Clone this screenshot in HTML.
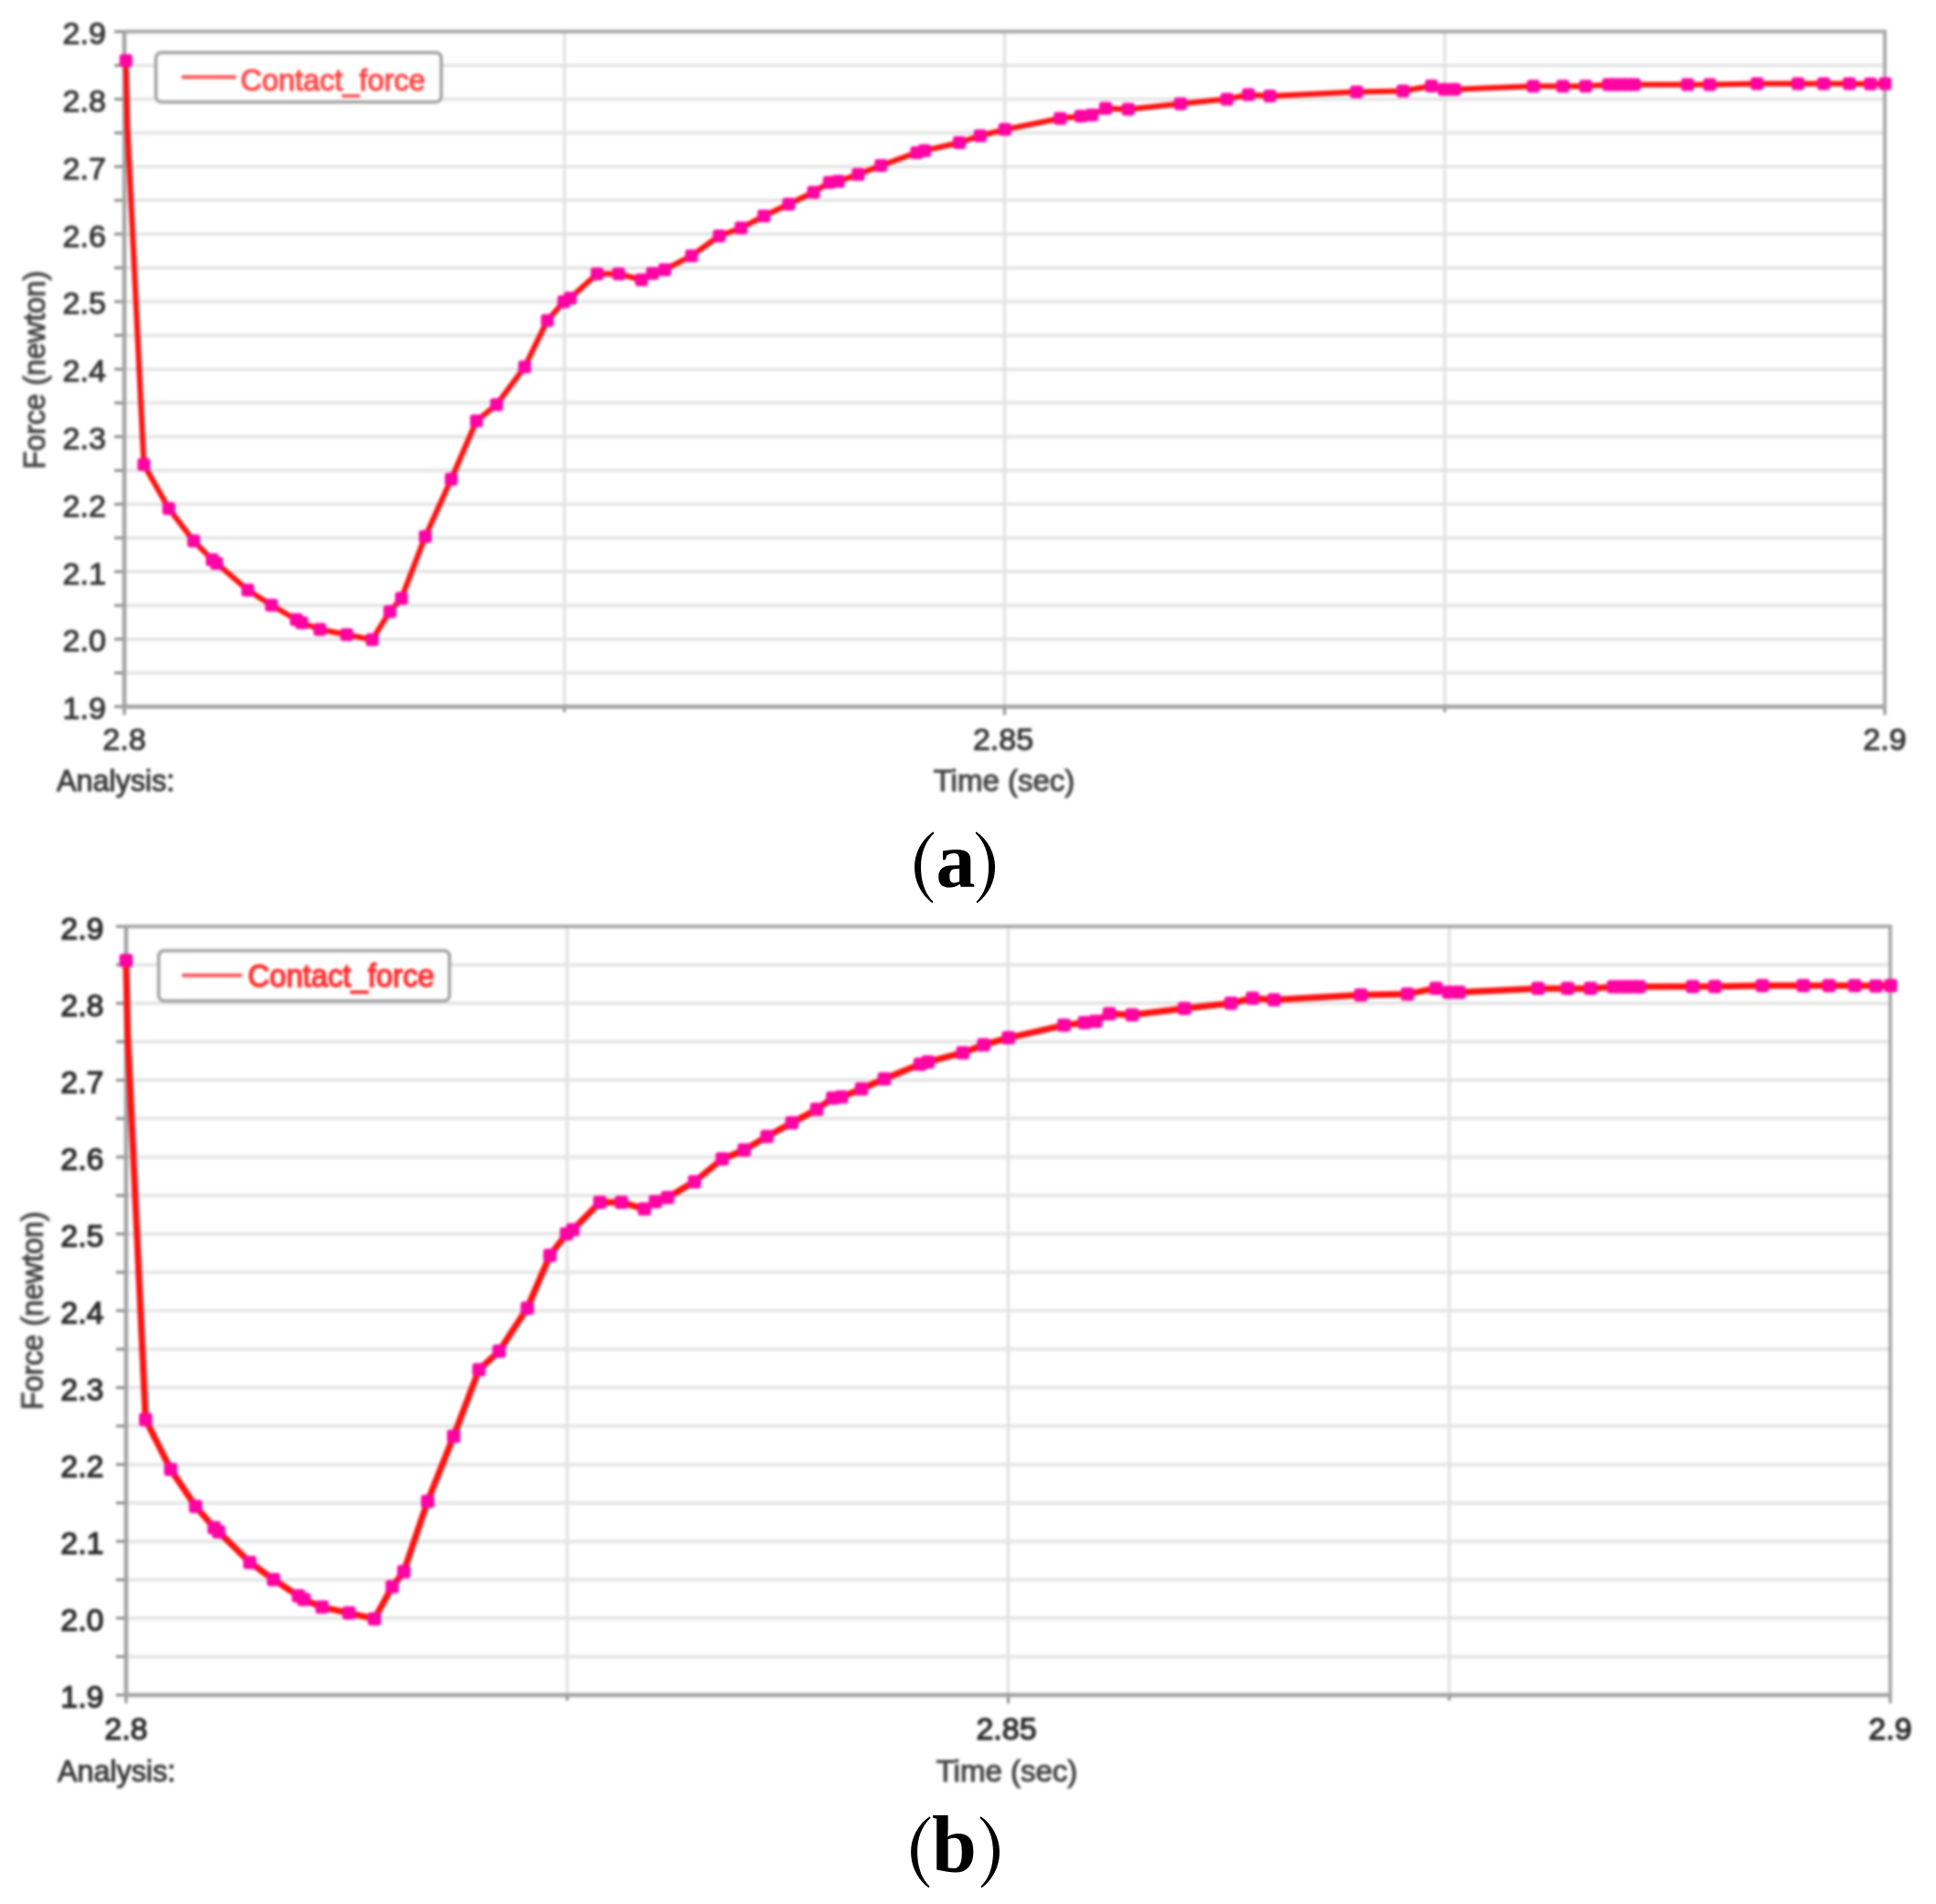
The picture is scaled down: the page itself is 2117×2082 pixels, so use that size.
<!DOCTYPE html>
<html><head><meta charset="utf-8"><title>Contact force</title>
<style>
html,body{margin:0;padding:0;background:#fff;}
body{width:2117px;height:2082px;overflow:hidden;font-family:"Liberation Sans",sans-serif;}
svg{display:block;}
.c{filter:blur(1.4px);}
</style></head><body>
<svg width="2117" height="2082" viewBox="0 0 2117 2082" font-family='"Liberation Sans", sans-serif'>
<g class="c">
<line x1="136" y1="71.5" x2="2061" y2="71.5" stroke="#e6e6e6" stroke-width="4"/>
<line x1="136" y1="108.4" x2="2061" y2="108.4" stroke="#e6e6e6" stroke-width="4"/>
<line x1="136" y1="145.3" x2="2061" y2="145.3" stroke="#e6e6e6" stroke-width="4"/>
<line x1="136" y1="182.2" x2="2061" y2="182.2" stroke="#e6e6e6" stroke-width="4"/>
<line x1="136" y1="219.1" x2="2061" y2="219.1" stroke="#e6e6e6" stroke-width="4"/>
<line x1="136" y1="256" x2="2061" y2="256" stroke="#e6e6e6" stroke-width="4"/>
<line x1="136" y1="292.9" x2="2061" y2="292.9" stroke="#e6e6e6" stroke-width="4"/>
<line x1="136" y1="329.8" x2="2061" y2="329.8" stroke="#e6e6e6" stroke-width="4"/>
<line x1="136" y1="366.7" x2="2061" y2="366.7" stroke="#e6e6e6" stroke-width="4"/>
<line x1="136" y1="403.7" x2="2061" y2="403.7" stroke="#e6e6e6" stroke-width="4"/>
<line x1="136" y1="440.6" x2="2061" y2="440.6" stroke="#e6e6e6" stroke-width="4"/>
<line x1="136" y1="477.5" x2="2061" y2="477.5" stroke="#e6e6e6" stroke-width="4"/>
<line x1="136" y1="514.4" x2="2061" y2="514.4" stroke="#e6e6e6" stroke-width="4"/>
<line x1="136" y1="551.3" x2="2061" y2="551.3" stroke="#e6e6e6" stroke-width="4"/>
<line x1="136" y1="588.2" x2="2061" y2="588.2" stroke="#e6e6e6" stroke-width="4"/>
<line x1="136" y1="625.1" x2="2061" y2="625.1" stroke="#e6e6e6" stroke-width="4"/>
<line x1="136" y1="662" x2="2061" y2="662" stroke="#e6e6e6" stroke-width="4"/>
<line x1="136" y1="698.9" x2="2061" y2="698.9" stroke="#e6e6e6" stroke-width="4"/>
<line x1="136" y1="735.8" x2="2061" y2="735.8" stroke="#e6e6e6" stroke-width="4"/>
<line x1="617.2" y1="34.6" x2="617.2" y2="772.7" stroke="#e3e3e3" stroke-width="3.5"/>
<line x1="1098.5" y1="34.6" x2="1098.5" y2="772.7" stroke="#e3e3e3" stroke-width="3.5"/>
<line x1="1579.8" y1="34.6" x2="1579.8" y2="772.7" stroke="#e3e3e3" stroke-width="3.5"/>
<line x1="125" y1="34.6" x2="136" y2="34.6" stroke="#8a8a8a" stroke-width="3"/>
<line x1="125" y1="71.5" x2="136" y2="71.5" stroke="#8a8a8a" stroke-width="3"/>
<line x1="125" y1="108.4" x2="136" y2="108.4" stroke="#8a8a8a" stroke-width="3"/>
<line x1="125" y1="145.3" x2="136" y2="145.3" stroke="#8a8a8a" stroke-width="3"/>
<line x1="125" y1="182.2" x2="136" y2="182.2" stroke="#8a8a8a" stroke-width="3"/>
<line x1="125" y1="219.1" x2="136" y2="219.1" stroke="#8a8a8a" stroke-width="3"/>
<line x1="125" y1="256" x2="136" y2="256" stroke="#8a8a8a" stroke-width="3"/>
<line x1="125" y1="292.9" x2="136" y2="292.9" stroke="#8a8a8a" stroke-width="3"/>
<line x1="125" y1="329.8" x2="136" y2="329.8" stroke="#8a8a8a" stroke-width="3"/>
<line x1="125" y1="366.7" x2="136" y2="366.7" stroke="#8a8a8a" stroke-width="3"/>
<line x1="125" y1="403.7" x2="136" y2="403.7" stroke="#8a8a8a" stroke-width="3"/>
<line x1="125" y1="440.6" x2="136" y2="440.6" stroke="#8a8a8a" stroke-width="3"/>
<line x1="125" y1="477.5" x2="136" y2="477.5" stroke="#8a8a8a" stroke-width="3"/>
<line x1="125" y1="514.4" x2="136" y2="514.4" stroke="#8a8a8a" stroke-width="3"/>
<line x1="125" y1="551.3" x2="136" y2="551.3" stroke="#8a8a8a" stroke-width="3"/>
<line x1="125" y1="588.2" x2="136" y2="588.2" stroke="#8a8a8a" stroke-width="3"/>
<line x1="125" y1="625.1" x2="136" y2="625.1" stroke="#8a8a8a" stroke-width="3"/>
<line x1="125" y1="662" x2="136" y2="662" stroke="#8a8a8a" stroke-width="3"/>
<line x1="125" y1="698.9" x2="136" y2="698.9" stroke="#8a8a8a" stroke-width="3"/>
<line x1="125" y1="735.8" x2="136" y2="735.8" stroke="#8a8a8a" stroke-width="3"/>
<line x1="125" y1="772.7" x2="136" y2="772.7" stroke="#8a8a8a" stroke-width="3"/>
<line x1="136" y1="772.7" x2="136" y2="781.7" stroke="#8a8a8a" stroke-width="3"/>
<line x1="617.2" y1="772.7" x2="617.2" y2="778.7" stroke="#8a8a8a" stroke-width="3"/>
<line x1="1098.5" y1="772.7" x2="1098.5" y2="781.7" stroke="#8a8a8a" stroke-width="3"/>
<line x1="1579.8" y1="772.7" x2="1579.8" y2="778.7" stroke="#8a8a8a" stroke-width="3"/>
<line x1="2061" y1="772.7" x2="2061" y2="781.7" stroke="#8a8a8a" stroke-width="3"/>
<path d="M136 34.6H2061V772.7" fill="none" stroke="#a8a8a8" stroke-width="4"/>
<path d="M136 34.6V772.7H2061" fill="none" stroke="#a2a2a2" stroke-width="4.5"/>
<polyline points="137.7,66.2 139.3,138 157.3,508.1 184.6,556 211.8,591.6 232,612 237,616 271,645.3 296.9,661.8 324,677.5 330,681 349.8,688.3 379.2,694 407,699.5 426.3,668.7 439,654.2 465,586.7 493.4,524.1 521,460.3 543,442.5 573.7,401.2 598.5,350.4 616.5,330 623.5,326 652.9,299.5 676.5,299.5 701.5,306 713.5,299 726.9,294.9 756.2,279.7 786.5,258 810.4,249.3 835.3,236.3 862.5,223.3 889.6,210.3 906.9,199.4 916.7,198.3 938.4,190.7 963.3,181 1002.4,166.9 1011,164.7 1049,156 1071.8,148.4 1098.8,141.6 1159.3,129.5 1181.7,127 1194.1,125.8 1208.9,118.4 1233.7,119.6 1290.8,113.4 1341.6,108.4 1365.1,103.5 1388.7,105 1483.3,100.5 1534.2,99.5 1565.3,94 1579.2,97.8 1590.5,97.8 1676.6,94.2 1708.9,94.2 1733.9,94.2 1759,92.6 1766,92.6 1773,92.6 1780,92.6 1787,92.6 1845.3,92.4 1869.6,92.4 1921.3,91.4 1966.1,91.4 1994.2,91.4 2022.2,91.4 2045.3,91.8 2061.4,91.4" fill="none" stroke="#ff1010" stroke-width="6" stroke-linejoin="round"/>
<rect x="130.7" y="59.2" width="14" height="14" rx="3" fill="#ff03a3"/>
<rect x="150.3" y="501.1" width="14" height="14" rx="3" fill="#ff03a3"/>
<rect x="177.6" y="549" width="14" height="14" rx="3" fill="#ff03a3"/>
<rect x="204.8" y="584.6" width="14" height="14" rx="3" fill="#ff03a3"/>
<rect x="225" y="605" width="14" height="14" rx="3" fill="#ff03a3"/>
<rect x="230" y="609" width="14" height="14" rx="3" fill="#ff03a3"/>
<rect x="264" y="638.3" width="14" height="14" rx="3" fill="#ff03a3"/>
<rect x="289.9" y="654.8" width="14" height="14" rx="3" fill="#ff03a3"/>
<rect x="317" y="670.5" width="14" height="14" rx="3" fill="#ff03a3"/>
<rect x="323" y="674" width="14" height="14" rx="3" fill="#ff03a3"/>
<rect x="342.8" y="681.3" width="14" height="14" rx="3" fill="#ff03a3"/>
<rect x="372.2" y="687" width="14" height="14" rx="3" fill="#ff03a3"/>
<rect x="400" y="692.5" width="14" height="14" rx="3" fill="#ff03a3"/>
<rect x="419.3" y="661.7" width="14" height="14" rx="3" fill="#ff03a3"/>
<rect x="432" y="647.2" width="14" height="14" rx="3" fill="#ff03a3"/>
<rect x="458" y="579.7" width="14" height="14" rx="3" fill="#ff03a3"/>
<rect x="486.4" y="517.1" width="14" height="14" rx="3" fill="#ff03a3"/>
<rect x="514" y="453.3" width="14" height="14" rx="3" fill="#ff03a3"/>
<rect x="536" y="435.5" width="14" height="14" rx="3" fill="#ff03a3"/>
<rect x="566.7" y="394.2" width="14" height="14" rx="3" fill="#ff03a3"/>
<rect x="591.5" y="343.4" width="14" height="14" rx="3" fill="#ff03a3"/>
<rect x="609.5" y="323" width="14" height="14" rx="3" fill="#ff03a3"/>
<rect x="616.5" y="319" width="14" height="14" rx="3" fill="#ff03a3"/>
<rect x="645.9" y="292.5" width="14" height="14" rx="3" fill="#ff03a3"/>
<rect x="669.5" y="292.5" width="14" height="14" rx="3" fill="#ff03a3"/>
<rect x="694.5" y="299" width="14" height="14" rx="3" fill="#ff03a3"/>
<rect x="706.5" y="292" width="14" height="14" rx="3" fill="#ff03a3"/>
<rect x="719.9" y="287.9" width="14" height="14" rx="3" fill="#ff03a3"/>
<rect x="749.2" y="272.7" width="14" height="14" rx="3" fill="#ff03a3"/>
<rect x="779.5" y="251" width="14" height="14" rx="3" fill="#ff03a3"/>
<rect x="803.4" y="242.3" width="14" height="14" rx="3" fill="#ff03a3"/>
<rect x="828.3" y="229.3" width="14" height="14" rx="3" fill="#ff03a3"/>
<rect x="855.5" y="216.3" width="14" height="14" rx="3" fill="#ff03a3"/>
<rect x="882.6" y="203.3" width="14" height="14" rx="3" fill="#ff03a3"/>
<rect x="899.9" y="192.4" width="14" height="14" rx="3" fill="#ff03a3"/>
<rect x="909.7" y="191.3" width="14" height="14" rx="3" fill="#ff03a3"/>
<rect x="931.4" y="183.7" width="14" height="14" rx="3" fill="#ff03a3"/>
<rect x="956.3" y="174" width="14" height="14" rx="3" fill="#ff03a3"/>
<rect x="995.4" y="159.9" width="14" height="14" rx="3" fill="#ff03a3"/>
<rect x="1004" y="157.7" width="14" height="14" rx="3" fill="#ff03a3"/>
<rect x="1042" y="149" width="14" height="14" rx="3" fill="#ff03a3"/>
<rect x="1064.8" y="141.4" width="14" height="14" rx="3" fill="#ff03a3"/>
<rect x="1091.8" y="134.6" width="14" height="14" rx="3" fill="#ff03a3"/>
<rect x="1152.3" y="122.5" width="14" height="14" rx="3" fill="#ff03a3"/>
<rect x="1174.7" y="120" width="14" height="14" rx="3" fill="#ff03a3"/>
<rect x="1187.1" y="118.8" width="14" height="14" rx="3" fill="#ff03a3"/>
<rect x="1201.9" y="111.4" width="14" height="14" rx="3" fill="#ff03a3"/>
<rect x="1226.7" y="112.6" width="14" height="14" rx="3" fill="#ff03a3"/>
<rect x="1283.8" y="106.4" width="14" height="14" rx="3" fill="#ff03a3"/>
<rect x="1334.6" y="101.4" width="14" height="14" rx="3" fill="#ff03a3"/>
<rect x="1358.1" y="96.5" width="14" height="14" rx="3" fill="#ff03a3"/>
<rect x="1381.7" y="98" width="14" height="14" rx="3" fill="#ff03a3"/>
<rect x="1476.3" y="93.5" width="14" height="14" rx="3" fill="#ff03a3"/>
<rect x="1527.2" y="92.5" width="14" height="14" rx="3" fill="#ff03a3"/>
<rect x="1558.3" y="87" width="14" height="14" rx="3" fill="#ff03a3"/>
<rect x="1572.2" y="90.8" width="14" height="14" rx="3" fill="#ff03a3"/>
<rect x="1583.5" y="90.8" width="14" height="14" rx="3" fill="#ff03a3"/>
<rect x="1669.6" y="87.2" width="14" height="14" rx="3" fill="#ff03a3"/>
<rect x="1701.9" y="87.2" width="14" height="14" rx="3" fill="#ff03a3"/>
<rect x="1726.9" y="87.2" width="14" height="14" rx="3" fill="#ff03a3"/>
<rect x="1752" y="85.6" width="14" height="14" rx="3" fill="#ff03a3"/>
<rect x="1759" y="85.6" width="14" height="14" rx="3" fill="#ff03a3"/>
<rect x="1766" y="85.6" width="14" height="14" rx="3" fill="#ff03a3"/>
<rect x="1773" y="85.6" width="14" height="14" rx="3" fill="#ff03a3"/>
<rect x="1780" y="85.6" width="14" height="14" rx="3" fill="#ff03a3"/>
<rect x="1838.3" y="85.4" width="14" height="14" rx="3" fill="#ff03a3"/>
<rect x="1862.6" y="85.4" width="14" height="14" rx="3" fill="#ff03a3"/>
<rect x="1914.3" y="84.4" width="14" height="14" rx="3" fill="#ff03a3"/>
<rect x="1959.1" y="84.4" width="14" height="14" rx="3" fill="#ff03a3"/>
<rect x="1987.2" y="84.4" width="14" height="14" rx="3" fill="#ff03a3"/>
<rect x="2015.2" y="84.4" width="14" height="14" rx="3" fill="#ff03a3"/>
<rect x="2038.3" y="84.8" width="14" height="14" rx="3" fill="#ff03a3"/>
<rect x="2054.4" y="84.4" width="14" height="14" rx="3" fill="#ff03a3"/>
<rect x="170.5" y="57.5" width="312" height="54" rx="6" fill="#fff" stroke="#a0a0a0" stroke-width="3.5"/>
<line x1="198.5" y1="84.3" x2="258" y2="84.3" stroke="#ff5050" stroke-width="4"/>
<text x="263" y="98.6" font-size="33.5" fill="#ff4040" stroke="#ff4040" stroke-width="1.1" textLength="202" lengthAdjust="spacingAndGlyphs">Contact_force</text>
<text x="115.8" y="48.1" font-size="34" fill="#353535" stroke="#353535" stroke-width="1.1" text-anchor="end">2.9</text>
<text x="115.8" y="121.9" font-size="34" fill="#353535" stroke="#353535" stroke-width="1.1" text-anchor="end">2.8</text>
<text x="115.8" y="195.7" font-size="34" fill="#353535" stroke="#353535" stroke-width="1.1" text-anchor="end">2.7</text>
<text x="115.8" y="269.5" font-size="34" fill="#353535" stroke="#353535" stroke-width="1.1" text-anchor="end">2.6</text>
<text x="115.8" y="343.3" font-size="34" fill="#353535" stroke="#353535" stroke-width="1.1" text-anchor="end">2.5</text>
<text x="115.8" y="417.2" font-size="34" fill="#353535" stroke="#353535" stroke-width="1.1" text-anchor="end">2.4</text>
<text x="115.8" y="491" font-size="34" fill="#353535" stroke="#353535" stroke-width="1.1" text-anchor="end">2.3</text>
<text x="115.8" y="564.8" font-size="34" fill="#353535" stroke="#353535" stroke-width="1.1" text-anchor="end">2.2</text>
<text x="115.8" y="638.6" font-size="34" fill="#353535" stroke="#353535" stroke-width="1.1" text-anchor="end">2.1</text>
<text x="115.8" y="712.4" font-size="34" fill="#353535" stroke="#353535" stroke-width="1.1" text-anchor="end">2.0</text>
<text x="115.8" y="786.2" font-size="34" fill="#353535" stroke="#353535" stroke-width="1.1" text-anchor="end">1.9</text>
<text x="136" y="819.9" font-size="34" fill="#353535" stroke="#353535" stroke-width="1.1" text-anchor="middle">2.8</text>
<text x="1097" y="819.9" font-size="34" fill="#353535" stroke="#353535" stroke-width="1.1" text-anchor="middle">2.85</text>
<text x="2061" y="819.9" font-size="34" fill="#353535" stroke="#353535" stroke-width="1.1" text-anchor="middle">2.9</text>
<text x="62" y="865" font-size="33" fill="#3a3a3a" stroke="#3a3a3a" stroke-width="1.1" textLength="129" lengthAdjust="spacingAndGlyphs">Analysis:</text>
<text x="1098" y="865" font-size="33" fill="#444" stroke="#444" stroke-width="1.1" text-anchor="middle">Time (sec)</text>
<text transform="translate(49 404.5) rotate(-90)" font-size="33" fill="#444" stroke="#444" stroke-width="1.1" text-anchor="middle" textLength="217" lengthAdjust="spacingAndGlyphs">Force (newton)</text>
<line x1="137.9" y1="1055" x2="2067" y2="1055" stroke="#e6e6e6" stroke-width="4"/>
<line x1="137.9" y1="1097.1" x2="2067" y2="1097.1" stroke="#e6e6e6" stroke-width="4"/>
<line x1="137.9" y1="1139.1" x2="2067" y2="1139.1" stroke="#e6e6e6" stroke-width="4"/>
<line x1="137.9" y1="1181.1" x2="2067" y2="1181.1" stroke="#e6e6e6" stroke-width="4"/>
<line x1="137.9" y1="1223.1" x2="2067" y2="1223.1" stroke="#e6e6e6" stroke-width="4"/>
<line x1="137.9" y1="1265.2" x2="2067" y2="1265.2" stroke="#e6e6e6" stroke-width="4"/>
<line x1="137.9" y1="1307.2" x2="2067" y2="1307.2" stroke="#e6e6e6" stroke-width="4"/>
<line x1="137.9" y1="1349.2" x2="2067" y2="1349.2" stroke="#e6e6e6" stroke-width="4"/>
<line x1="137.9" y1="1391.2" x2="2067" y2="1391.2" stroke="#e6e6e6" stroke-width="4"/>
<line x1="137.9" y1="1433.2" x2="2067" y2="1433.2" stroke="#e6e6e6" stroke-width="4"/>
<line x1="137.9" y1="1475.3" x2="2067" y2="1475.3" stroke="#e6e6e6" stroke-width="4"/>
<line x1="137.9" y1="1517.3" x2="2067" y2="1517.3" stroke="#e6e6e6" stroke-width="4"/>
<line x1="137.9" y1="1559.3" x2="2067" y2="1559.3" stroke="#e6e6e6" stroke-width="4"/>
<line x1="137.9" y1="1601.4" x2="2067" y2="1601.4" stroke="#e6e6e6" stroke-width="4"/>
<line x1="137.9" y1="1643.4" x2="2067" y2="1643.4" stroke="#e6e6e6" stroke-width="4"/>
<line x1="137.9" y1="1685.4" x2="2067" y2="1685.4" stroke="#e6e6e6" stroke-width="4"/>
<line x1="137.9" y1="1727.4" x2="2067" y2="1727.4" stroke="#e6e6e6" stroke-width="4"/>
<line x1="137.9" y1="1769.4" x2="2067" y2="1769.4" stroke="#e6e6e6" stroke-width="4"/>
<line x1="137.9" y1="1811.5" x2="2067" y2="1811.5" stroke="#e6e6e6" stroke-width="4"/>
<line x1="620.2" y1="1013" x2="620.2" y2="1853.5" stroke="#e3e3e3" stroke-width="3.5"/>
<line x1="1102.5" y1="1013" x2="1102.5" y2="1853.5" stroke="#e3e3e3" stroke-width="3.5"/>
<line x1="1584.7" y1="1013" x2="1584.7" y2="1853.5" stroke="#e3e3e3" stroke-width="3.5"/>
<line x1="126.9" y1="1013" x2="137.9" y2="1013" stroke="#8a8a8a" stroke-width="3"/>
<line x1="126.9" y1="1055" x2="137.9" y2="1055" stroke="#8a8a8a" stroke-width="3"/>
<line x1="126.9" y1="1097.1" x2="137.9" y2="1097.1" stroke="#8a8a8a" stroke-width="3"/>
<line x1="126.9" y1="1139.1" x2="137.9" y2="1139.1" stroke="#8a8a8a" stroke-width="3"/>
<line x1="126.9" y1="1181.1" x2="137.9" y2="1181.1" stroke="#8a8a8a" stroke-width="3"/>
<line x1="126.9" y1="1223.1" x2="137.9" y2="1223.1" stroke="#8a8a8a" stroke-width="3"/>
<line x1="126.9" y1="1265.2" x2="137.9" y2="1265.2" stroke="#8a8a8a" stroke-width="3"/>
<line x1="126.9" y1="1307.2" x2="137.9" y2="1307.2" stroke="#8a8a8a" stroke-width="3"/>
<line x1="126.9" y1="1349.2" x2="137.9" y2="1349.2" stroke="#8a8a8a" stroke-width="3"/>
<line x1="126.9" y1="1391.2" x2="137.9" y2="1391.2" stroke="#8a8a8a" stroke-width="3"/>
<line x1="126.9" y1="1433.2" x2="137.9" y2="1433.2" stroke="#8a8a8a" stroke-width="3"/>
<line x1="126.9" y1="1475.3" x2="137.9" y2="1475.3" stroke="#8a8a8a" stroke-width="3"/>
<line x1="126.9" y1="1517.3" x2="137.9" y2="1517.3" stroke="#8a8a8a" stroke-width="3"/>
<line x1="126.9" y1="1559.3" x2="137.9" y2="1559.3" stroke="#8a8a8a" stroke-width="3"/>
<line x1="126.9" y1="1601.4" x2="137.9" y2="1601.4" stroke="#8a8a8a" stroke-width="3"/>
<line x1="126.9" y1="1643.4" x2="137.9" y2="1643.4" stroke="#8a8a8a" stroke-width="3"/>
<line x1="126.9" y1="1685.4" x2="137.9" y2="1685.4" stroke="#8a8a8a" stroke-width="3"/>
<line x1="126.9" y1="1727.4" x2="137.9" y2="1727.4" stroke="#8a8a8a" stroke-width="3"/>
<line x1="126.9" y1="1769.4" x2="137.9" y2="1769.4" stroke="#8a8a8a" stroke-width="3"/>
<line x1="126.9" y1="1811.5" x2="137.9" y2="1811.5" stroke="#8a8a8a" stroke-width="3"/>
<line x1="126.9" y1="1853.5" x2="137.9" y2="1853.5" stroke="#8a8a8a" stroke-width="3"/>
<line x1="137.9" y1="1853.5" x2="137.9" y2="1862.5" stroke="#8a8a8a" stroke-width="3"/>
<line x1="620.2" y1="1853.5" x2="620.2" y2="1859.5" stroke="#8a8a8a" stroke-width="3"/>
<line x1="1102.5" y1="1853.5" x2="1102.5" y2="1862.5" stroke="#8a8a8a" stroke-width="3"/>
<line x1="1584.7" y1="1853.5" x2="1584.7" y2="1859.5" stroke="#8a8a8a" stroke-width="3"/>
<line x1="2067" y1="1853.5" x2="2067" y2="1862.5" stroke="#8a8a8a" stroke-width="3"/>
<path d="M137.9 1013H2067V1853.5" fill="none" stroke="#a8a8a8" stroke-width="4"/>
<path d="M137.9 1013V1853.5H2067" fill="none" stroke="#a2a2a2" stroke-width="4.5"/>
<polyline points="137.8,1050.2 139.6,1130.7 159.2,1552.2 186.6,1606.7 213.9,1647.3 234.1,1670.5 239.1,1675.1 273.2,1708.4 299.1,1727.2 326.3,1745.1 332.3,1749.1 352.2,1757.4 381.6,1763.9 409.5,1770.1 428.8,1735.1 441.5,1718.6 467.6,1641.7 496.1,1570.4 523.7,1497.8 545.8,1477.5 576.5,1430.5 601.4,1372.6 619.4,1349.4 626.4,1344.8 655.9,1314.7 679.6,1314.7 704.6,1322.1 716.6,1314.1 730.1,1309.4 759.4,1292.1 789.8,1267.4 813.7,1257.5 838.7,1242.7 865.9,1227.9 893.1,1213.1 910.4,1200.7 920.3,1199.4 942,1190.8 967,1179.7 1006.1,1163.7 1014.8,1161.1 1052.8,1151.2 1075.7,1142.6 1102.8,1134.8 1163.4,1121.1 1185.8,1118.2 1198.3,1116.9 1213.1,1108.4 1237.9,1109.8 1295.2,1102.7 1346.1,1097 1369.6,1091.5 1393.3,1093.2 1488.1,1088 1539.1,1086.9 1570.2,1080.6 1584.2,1085 1595.5,1085 1681.8,1080.9 1714.2,1080.9 1739.2,1080.9 1764.4,1079 1771.4,1079 1778.4,1079 1785.4,1079 1792.4,1079 1850.8,1078.8 1875.2,1078.8 1927,1077.7 1971.9,1077.7 2000.1,1077.7 2028.1,1077.7 2051.3,1078.1 2067.4,1077.7" fill="none" stroke="#ff1010" stroke-width="7" stroke-linejoin="round"/>
<rect x="130.6" y="1042.9" width="14.5" height="14.5" rx="3" fill="#ff03a3"/>
<rect x="152" y="1544.9" width="14.5" height="14.5" rx="3" fill="#ff03a3"/>
<rect x="179.4" y="1599.5" width="14.5" height="14.5" rx="3" fill="#ff03a3"/>
<rect x="206.6" y="1640" width="14.5" height="14.5" rx="3" fill="#ff03a3"/>
<rect x="226.9" y="1663.3" width="14.5" height="14.5" rx="3" fill="#ff03a3"/>
<rect x="231.9" y="1667.8" width="14.5" height="14.5" rx="3" fill="#ff03a3"/>
<rect x="265.9" y="1701.2" width="14.5" height="14.5" rx="3" fill="#ff03a3"/>
<rect x="291.9" y="1720" width="14.5" height="14.5" rx="3" fill="#ff03a3"/>
<rect x="319.1" y="1737.8" width="14.5" height="14.5" rx="3" fill="#ff03a3"/>
<rect x="325.1" y="1741.8" width="14.5" height="14.5" rx="3" fill="#ff03a3"/>
<rect x="344.9" y="1750.1" width="14.5" height="14.5" rx="3" fill="#ff03a3"/>
<rect x="374.4" y="1756.6" width="14.5" height="14.5" rx="3" fill="#ff03a3"/>
<rect x="402.2" y="1762.9" width="14.5" height="14.5" rx="3" fill="#ff03a3"/>
<rect x="421.6" y="1727.8" width="14.5" height="14.5" rx="3" fill="#ff03a3"/>
<rect x="434.3" y="1711.3" width="14.5" height="14.5" rx="3" fill="#ff03a3"/>
<rect x="460.4" y="1634.4" width="14.5" height="14.5" rx="3" fill="#ff03a3"/>
<rect x="488.8" y="1563.2" width="14.5" height="14.5" rx="3" fill="#ff03a3"/>
<rect x="516.5" y="1490.5" width="14.5" height="14.5" rx="3" fill="#ff03a3"/>
<rect x="538.5" y="1470.2" width="14.5" height="14.5" rx="3" fill="#ff03a3"/>
<rect x="569.3" y="1423.2" width="14.5" height="14.5" rx="3" fill="#ff03a3"/>
<rect x="594.1" y="1365.4" width="14.5" height="14.5" rx="3" fill="#ff03a3"/>
<rect x="612.2" y="1342.1" width="14.5" height="14.5" rx="3" fill="#ff03a3"/>
<rect x="619.2" y="1337.6" width="14.5" height="14.5" rx="3" fill="#ff03a3"/>
<rect x="648.7" y="1307.4" width="14.5" height="14.5" rx="3" fill="#ff03a3"/>
<rect x="672.3" y="1307.4" width="14.5" height="14.5" rx="3" fill="#ff03a3"/>
<rect x="697.4" y="1314.8" width="14.5" height="14.5" rx="3" fill="#ff03a3"/>
<rect x="709.4" y="1306.8" width="14.5" height="14.5" rx="3" fill="#ff03a3"/>
<rect x="722.8" y="1302.2" width="14.5" height="14.5" rx="3" fill="#ff03a3"/>
<rect x="752.2" y="1284.9" width="14.5" height="14.5" rx="3" fill="#ff03a3"/>
<rect x="782.5" y="1260.1" width="14.5" height="14.5" rx="3" fill="#ff03a3"/>
<rect x="806.5" y="1250.2" width="14.5" height="14.5" rx="3" fill="#ff03a3"/>
<rect x="831.4" y="1235.4" width="14.5" height="14.5" rx="3" fill="#ff03a3"/>
<rect x="858.7" y="1220.6" width="14.5" height="14.5" rx="3" fill="#ff03a3"/>
<rect x="885.9" y="1205.8" width="14.5" height="14.5" rx="3" fill="#ff03a3"/>
<rect x="903.2" y="1193.4" width="14.5" height="14.5" rx="3" fill="#ff03a3"/>
<rect x="913" y="1192.2" width="14.5" height="14.5" rx="3" fill="#ff03a3"/>
<rect x="934.8" y="1183.5" width="14.5" height="14.5" rx="3" fill="#ff03a3"/>
<rect x="959.7" y="1172.5" width="14.5" height="14.5" rx="3" fill="#ff03a3"/>
<rect x="998.9" y="1156.4" width="14.5" height="14.5" rx="3" fill="#ff03a3"/>
<rect x="1007.5" y="1153.9" width="14.5" height="14.5" rx="3" fill="#ff03a3"/>
<rect x="1045.6" y="1144" width="14.5" height="14.5" rx="3" fill="#ff03a3"/>
<rect x="1068.4" y="1135.3" width="14.5" height="14.5" rx="3" fill="#ff03a3"/>
<rect x="1095.5" y="1127.6" width="14.5" height="14.5" rx="3" fill="#ff03a3"/>
<rect x="1156.1" y="1113.8" width="14.5" height="14.5" rx="3" fill="#ff03a3"/>
<rect x="1178.6" y="1111" width="14.5" height="14.5" rx="3" fill="#ff03a3"/>
<rect x="1191" y="1109.6" width="14.5" height="14.5" rx="3" fill="#ff03a3"/>
<rect x="1205.8" y="1101.2" width="14.5" height="14.5" rx="3" fill="#ff03a3"/>
<rect x="1230.7" y="1102.5" width="14.5" height="14.5" rx="3" fill="#ff03a3"/>
<rect x="1287.9" y="1095.5" width="14.5" height="14.5" rx="3" fill="#ff03a3"/>
<rect x="1338.8" y="1089.8" width="14.5" height="14.5" rx="3" fill="#ff03a3"/>
<rect x="1362.4" y="1084.2" width="14.5" height="14.5" rx="3" fill="#ff03a3"/>
<rect x="1386" y="1085.9" width="14.5" height="14.5" rx="3" fill="#ff03a3"/>
<rect x="1480.8" y="1080.8" width="14.5" height="14.5" rx="3" fill="#ff03a3"/>
<rect x="1531.8" y="1079.7" width="14.5" height="14.5" rx="3" fill="#ff03a3"/>
<rect x="1563" y="1073.4" width="14.5" height="14.5" rx="3" fill="#ff03a3"/>
<rect x="1576.9" y="1077.7" width="14.5" height="14.5" rx="3" fill="#ff03a3"/>
<rect x="1588.2" y="1077.7" width="14.5" height="14.5" rx="3" fill="#ff03a3"/>
<rect x="1674.5" y="1073.6" width="14.5" height="14.5" rx="3" fill="#ff03a3"/>
<rect x="1706.9" y="1073.6" width="14.5" height="14.5" rx="3" fill="#ff03a3"/>
<rect x="1732" y="1073.6" width="14.5" height="14.5" rx="3" fill="#ff03a3"/>
<rect x="1757.1" y="1071.8" width="14.5" height="14.5" rx="3" fill="#ff03a3"/>
<rect x="1764.1" y="1071.8" width="14.5" height="14.5" rx="3" fill="#ff03a3"/>
<rect x="1771.1" y="1071.8" width="14.5" height="14.5" rx="3" fill="#ff03a3"/>
<rect x="1778.2" y="1071.8" width="14.5" height="14.5" rx="3" fill="#ff03a3"/>
<rect x="1785.2" y="1071.8" width="14.5" height="14.5" rx="3" fill="#ff03a3"/>
<rect x="1843.6" y="1071.6" width="14.5" height="14.5" rx="3" fill="#ff03a3"/>
<rect x="1867.9" y="1071.6" width="14.5" height="14.5" rx="3" fill="#ff03a3"/>
<rect x="1919.8" y="1070.4" width="14.5" height="14.5" rx="3" fill="#ff03a3"/>
<rect x="1964.6" y="1070.4" width="14.5" height="14.5" rx="3" fill="#ff03a3"/>
<rect x="1992.8" y="1070.4" width="14.5" height="14.5" rx="3" fill="#ff03a3"/>
<rect x="2020.9" y="1070.4" width="14.5" height="14.5" rx="3" fill="#ff03a3"/>
<rect x="2044" y="1070.9" width="14.5" height="14.5" rx="3" fill="#ff03a3"/>
<rect x="2060.2" y="1070.4" width="14.5" height="14.5" rx="3" fill="#ff03a3"/>
<rect x="173.5" y="1039.5" width="318" height="55" rx="6" fill="#fff" stroke="#a0a0a0" stroke-width="3.5"/>
<line x1="199" y1="1066.5" x2="264.7" y2="1066.5" stroke="#ff5050" stroke-width="4"/>
<text x="271" y="1079.3" font-size="34.5" fill="#ff2c2c" stroke="#ff2c2c" stroke-width="1.5" textLength="204" lengthAdjust="spacingAndGlyphs">Contact_force</text>
<text x="113.5" y="1026.5" font-size="34" fill="#2b2b2b" stroke="#2b2b2b" stroke-width="1.3" text-anchor="end">2.9</text>
<text x="113.5" y="1110.6" font-size="34" fill="#2b2b2b" stroke="#2b2b2b" stroke-width="1.3" text-anchor="end">2.8</text>
<text x="113.5" y="1194.6" font-size="34" fill="#2b2b2b" stroke="#2b2b2b" stroke-width="1.3" text-anchor="end">2.7</text>
<text x="113.5" y="1278.7" font-size="34" fill="#2b2b2b" stroke="#2b2b2b" stroke-width="1.3" text-anchor="end">2.6</text>
<text x="113.5" y="1362.7" font-size="34" fill="#2b2b2b" stroke="#2b2b2b" stroke-width="1.3" text-anchor="end">2.5</text>
<text x="113.5" y="1446.8" font-size="34" fill="#2b2b2b" stroke="#2b2b2b" stroke-width="1.3" text-anchor="end">2.4</text>
<text x="113.5" y="1530.8" font-size="34" fill="#2b2b2b" stroke="#2b2b2b" stroke-width="1.3" text-anchor="end">2.3</text>
<text x="113.5" y="1614.9" font-size="34" fill="#2b2b2b" stroke="#2b2b2b" stroke-width="1.3" text-anchor="end">2.2</text>
<text x="113.5" y="1698.9" font-size="34" fill="#2b2b2b" stroke="#2b2b2b" stroke-width="1.3" text-anchor="end">2.1</text>
<text x="113.5" y="1782.9" font-size="34" fill="#2b2b2b" stroke="#2b2b2b" stroke-width="1.3" text-anchor="end">2.0</text>
<text x="113.5" y="1867" font-size="34" fill="#2b2b2b" stroke="#2b2b2b" stroke-width="1.3" text-anchor="end">1.9</text>
<text x="137.9" y="1902.3" font-size="34" fill="#2b2b2b" stroke="#2b2b2b" stroke-width="1.3" text-anchor="middle">2.8</text>
<text x="1100.5" y="1902.3" font-size="34" fill="#2b2b2b" stroke="#2b2b2b" stroke-width="1.3" text-anchor="middle">2.85</text>
<text x="2067" y="1902.3" font-size="34" fill="#2b2b2b" stroke="#2b2b2b" stroke-width="1.3" text-anchor="middle">2.9</text>
<text x="63" y="1947.5" font-size="33" fill="#3a3a3a" stroke="#3a3a3a" stroke-width="1.1" textLength="129" lengthAdjust="spacingAndGlyphs">Analysis:</text>
<text x="1101" y="1947.5" font-size="33" fill="#444" stroke="#444" stroke-width="1.1" text-anchor="middle">Time (sec)</text>
<text transform="translate(46.6 1433.2) rotate(-90)" font-size="33" fill="#444" stroke="#444" stroke-width="1.1" text-anchor="middle" textLength="217" lengthAdjust="spacingAndGlyphs">Force (newton)</text>
</g>
<path d="M1020.5,909.5 C1008,918 1000,933 1000,948 C1000,964 1007,978 1019.5,987.5 L1020.5,986 C1011,977 1007,963 1007,948 C1007,933 1012,920 1021.5,911 Z" transform="translate(0 0)" fill="#000"/>
<path d="M1020.5,909.5 C1008,918 1000,933 1000,948 C1000,964 1007,978 1019.5,987.5 L1020.5,986 C1011,977 1007,963 1007,948 C1007,933 1012,920 1021.5,911 Z" transform="translate(2088.1 0) scale(-1 1)" fill="#000"/>
<text x="1045" y="969.7" font-family='"Liberation Serif", serif' font-size="86" font-weight="bold" fill="#000" text-anchor="middle">a</text>
<path d="M1020.5,909.5 C1008,918 1000,933 1000,948 C1000,964 1007,978 1019.5,987.5 L1020.5,986 C1011,977 1007,963 1007,948 C1007,933 1012,920 1021.5,911 Z" transform="translate(-3.9 1076.8)" fill="#000"/>
<path d="M1020.5,909.5 C1008,918 1000,933 1000,948 C1000,964 1007,978 1019.5,987.5 L1020.5,986 C1011,977 1007,963 1007,948 C1007,933 1012,920 1021.5,911 Z" transform="translate(2093 1076.8) scale(-1 1)" fill="#000"/>
<text x="1043.5" y="2046.5" font-family='"Liberation Serif", serif' font-size="88" font-weight="bold" fill="#000" text-anchor="middle">b</text>
</svg>
</body></html>
